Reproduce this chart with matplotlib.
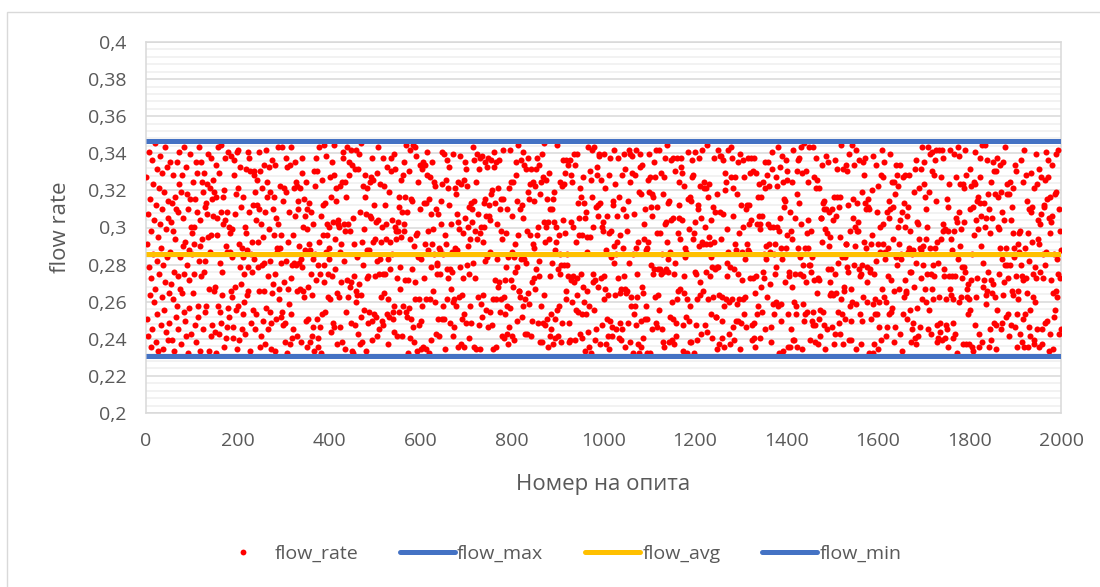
import numpy as np
import matplotlib
matplotlib.use("Agg")
import matplotlib.pyplot as plt
from matplotlib.lines import Line2D
from matplotlib.patches import Rectangle
from matplotlib.ticker import MultipleLocator, FuncFormatter

plt.rcParams['font.family'] = ['Open Sans', 'DejaVu Sans']

# Simulated flow rate per trial, stored as two-digit codes on a 0..99 scale
# between the lowest and highest observed flow rate.
flow_rate_codes = """
83175209664195287304 58369112478025639931 70064487195502783861 93145027856803427621 97345911884672076429
15904833620771265884 39027454186890233767 12958046310576298451 64203897165388094275 01683549227394106057
47812960385214739006 85672318449751026337 90548112763985204469 23718066559431027848 56099214738265307611
32748901566423971085 20436798152839617404 77926351084867139522 60185748309327465913 08849166327521950378
96235207418833695012 74461925386010578749 28954130679202864715 53397021868445127663 19708253416895300486
61094278551630894367 05229681743712598820 44761503299168337456 89023864175048619731 26507943185620977214
78340615927644018853 31672489051997364208 56124378906542817930 09687251433178064592 85413060277349658116
04596832177152490638 67280945136186024779 92351786044208975313 38650119827056423498 71204893566127386045
50832674119037621584 13985440727829056163 60277913485234068192 95446103588120749735 27619084325896153402
89016452378714963025 46288710943367052899 18530642795921847466 02364978153749206581 64839216075382701954
37621809854463971238 80455327166092143879 29703861548819260545 76185340928663472017 11942387605854093662
58206974314182550967 23849061587435209818 67013586229654081773 40729813065197342656 93570246811426688903
16458723900471368952 71032695844958017326 83664107529030594781 25791068433842176609 50384972611795802347
94170356825226914078 36887040153161394825 09942613785075234966 62810459274193058017 28573619048264901587
42795160386908235471 15626897430472913658 81039454276614870392 57246018935328607144 73906521468892137065
20634891757714032695 88357126049045617832 34912068587326540973 96082735194157682310 05467813229681350948
65328107463952849016 72419856303068274591 18706423958945102687 43581076299224738056 87091634528136507279
31874056921560893744 06752381940683156228 99145360827317620485 54093768121968430573 76624917086053219840
09562381473842067915 63918042578526913047 42378915060791356284 81256037943407892153 28943620715664107838
74081956328325716402 19674830551197042386 55820196743460389721 07351269848832657094 93710582366014586237
26943178054917652809 84035716924658130972 70519643288012476553 36927408155629073184 12685094370487312965
58307215964381940623 27859301476619842350 96142738055376018894 04751689322908546117 68234917500153829476
83016942751265387490 40278315966913574028 21964057388547120639 75830492616240985371 39457206184891632507
17649238054386091526 92573081647031548892 63850214793729465018 48012695735916237406 06728391548457013962
95143826077068519234 28796410539652307881 14603978521198742655 80375219466341086927 53926740181875034196
41280567939354162708 66912304857726815943 37489610254105978326 92136578400783521649 24759038162657940315
70354891266019832745 13687052499248617036 85926314078636150892 29043785611974236580 08615932746520398147
36907812455184279061 79526048331306958724 60194738522541836079 97235801648816502493 45028169733472915086
82561904373967045812 54813296070725386419 23048675915092714638 61970385422437169950 19348620575081634297
07425839164614972083 35061478922982053617 78352109646453892071 14687203599368125740 90516734285529401368
63287405911038652974 87432069155574109826 46190587323017468952 52864139700794235816 31072598647342895160
24960371585862914037 19053842761690275384 92715068344125736901 68403952177756012493 05381926448919670352
79132560488407319652 61839027454825096713 37507264199468203581 22695481063013758946 84426079315263891047
45670283197127843560 30296517486984502139 58063912471549327608 87914305622261097854 13508749362697425180
90743168255438601297 76215094381031869542 26378450919672145306 43089627151183540796 61925837400859261473
12586904378096315428 49370826159458103764 83016245976725938051 27594136800541786239 96840527313319052687
68213579044769028156 95801463277236597410 04928371655198064332 71356098242864309175 39046812578107352964
33908615277514860392 21746059385089127645 67152890346342975018 80427536190975814263 14693028577850461389
86370419523026574810 58914237061781350496 19503684722957046813 44210967855369382705 07782541369412806354
52048761396683120547 36697015824248951673 91836402571074623589 65290318477521769430 27453896106836584912
"""
flow_rate_low = 0.2312
flow_rate_high = 0.3455

flow_max = 0.3465
flow_avg = 0.2857
flow_min = 0.2307

x_ticks = [0, 200, 400, 600, 800, 1000, 1200, 1400, 1600, 1800, 2000]
y_ticks = [0.2, 0.22, 0.24, 0.26, 0.28, 0.3, 0.32, 0.34, 0.36, 0.38, 0.4]

# decode the stored codes into flow rate values
digits = "".join(flow_rate_codes.split())
codes = np.array([int(digits[i:i + 2]) for i in range(0, len(digits) - 1, 2)])
flow_rate = flow_rate_low + codes / 99.0 * (flow_rate_high - flow_rate_low)
trial = np.arange(1, len(flow_rate) + 1)

W, H = 1100, 587
fig = plt.figure(figsize=(W / 100, H / 100), dpi=100)
ax = fig.add_axes([146 / W, 1 - 413 / H, (1061 - 146) / W, (413 - 42) / H])

text_color = '#595959'
red = '#FF0000'
blue = '#4472C4'
gold = '#FFC000'
line_w = 3.6

ax.scatter(trial, flow_rate, s=19, color=red, linewidths=0, zorder=3)
x_span = [x_ticks[0], x_ticks[-1]]
ax.plot(x_span, [flow_max] * 2, color=blue, lw=line_w, solid_capstyle='butt', zorder=4)
ax.plot(x_span, [flow_avg] * 2, color=gold, lw=line_w, solid_capstyle='butt', zorder=4)
ax.plot(x_span, [flow_min] * 2, color=blue, lw=line_w, solid_capstyle='butt', zorder=4)

ax.set_xlim(x_ticks[0], x_ticks[-1])
ax.set_ylim(y_ticks[0], y_ticks[-1])
ax.set_xticks(x_ticks)
ax.set_yticks(y_ticks)
ax.yaxis.set_minor_locator(MultipleLocator(0.004))
ax.yaxis.set_major_formatter(FuncFormatter(lambda v, p: f"{v:.2f}".rstrip('0').replace('.', ',')))

ax.grid(which='major', axis='y', color='#D9D9D9', lw=1.1, zorder=0)
ax.grid(which='minor', axis='y', color='#EFEFEF', lw=1.1, zorder=0)
ax.set_axisbelow(True)
for sp in ax.spines.values():
    sp.set_color('#D9D9D9')
    sp.set_linewidth(1.1)

ax.tick_params(which='both', length=0, labelsize=14, labelcolor=text_color)
ax.tick_params(axis='y', pad=14)
ax.tick_params(axis='x', pad=14)

ax.set_ylabel('flow rate', fontsize=16, color=text_color, labelpad=12)
ax.set_xlabel('Номер на опита', fontsize=16, color=text_color, labelpad=17)

# legend row below the plot, laid out in figure pixels
def fx(px):
    return px / W

legend_y = 1 - 552 / H
fig.add_artist(Line2D([fx(243)], [legend_y], ls='none', marker='o', ms=4.2,
                      mfc=red, mec='none', transform=fig.transFigure))
for x0, x1, col in [(400, 455, blue), (585, 640, gold), (762, 817, blue)]:
    fig.add_artist(Line2D([fx(x0), fx(x1)], [legend_y, legend_y], color=col, lw=line_w,
                          solid_capstyle='round', transform=fig.transFigure))
for xt, label in [(275, 'flow_rate'), (457, 'flow_max'), (643, 'flow_avg'), (820, 'flow_min')]:
    fig.text(fx(xt), legend_y, label, fontsize=14, color=text_color, ha='left', va='center_baseline')

# chart area outline
fig.patches.append(Rectangle((7 / W, -0.1), 1.5, 1 - 12 / H + 0.1, transform=fig.transFigure,
                             fill=False, edgecolor='#D9D9D9', lw=1.0))

fig.savefig('out.png', dpi=100)
